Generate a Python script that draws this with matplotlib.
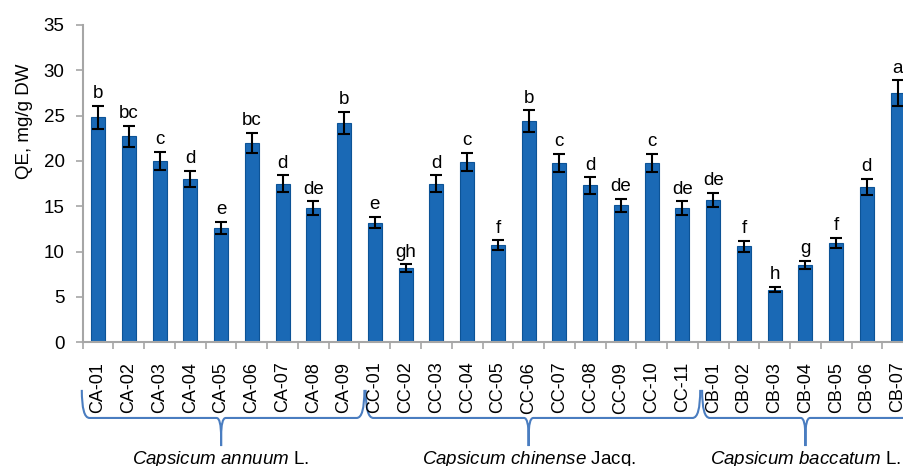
import matplotlib
matplotlib.use("Agg")
import matplotlib.pyplot as plt
import matplotlib.transforms as mtransforms
from matplotlib.path import Path
from matplotlib.patches import PathPatch
import numpy as np

plt.rcParams["font.family"] = ["Liberation Sans", "DejaVu Sans"]
plt.rcParams["mathtext.fontset"] = "custom"
plt.rcParams["mathtext.it"] = "Liberation Sans:italic"
plt.rcParams["mathtext.rm"] = "Liberation Sans"

# accessions per species
ca_names = ["CA-01", "CA-02", "CA-03", "CA-04", "CA-05", "CA-06", "CA-07", "CA-08", "CA-09"]
cc_names = ["CC-01", "CC-02", "CC-03", "CC-04", "CC-05", "CC-06", "CC-07", "CC-08",
            "CC-09", "CC-10", "CC-11"]
cb_names = ["CB-01", "CB-02", "CB-03", "CB-04", "CB-05", "CB-06", "CB-07"]

# quercetin equivalents, mg/g DW
ca_qe = [24.8, 22.7, 20.0, 18.0, 12.6, 22.0, 17.5, 14.8, 24.2]
cc_qe = [13.2, 8.2, 17.5, 19.9, 10.7, 24.4, 19.8, 17.3, 15.1, 19.8, 14.8]
cb_qe = [15.7, 10.6, 5.8, 8.5, 11.0, 17.1, 27.5]

ca_err = [1.25, 1.2, 1.0, 0.9, 0.65, 1.1, 0.9, 0.75, 1.25]
cc_err = [0.65, 0.4, 0.9, 1.0, 0.55, 1.2, 1.0, 0.9, 0.75, 1.0, 0.75]
cb_err = [0.8, 0.6, 0.3, 0.45, 0.55, 0.9, 1.4]

# significance groups
ca_sig = ["b", "bc", "c", "d", "e", "bc", "d", "de", "b"]
cc_sig = ["e", "gh", "d", "c", "f", "b", "c", "d", "de", "c", "de"]
cb_sig = ["de", "f", "h", "g", "f", "d", "a"]

species = [r"$\mathit{Capsicum\ annuum}$ L.",
           r"$\mathit{Capsicum\ chinense}$ Jacq.",
           r"$\mathit{Capsicum\ baccatum}$ L."]
group_sizes = [len(ca_names), len(cc_names), len(cb_names)]

names = ca_names + cc_names + cb_names
qe = np.array(ca_qe + cc_qe + cb_qe)
err = np.array(ca_err + cc_err + cb_err)
sig = ca_sig + cc_sig + cb_sig
x = np.arange(len(names))

fig = plt.figure(figsize=(9.04, 4.66), dpi=100)
ax = fig.add_axes([0.0915, 0.2655, 0.9185, 0.681])

ax.bar(x, qe, width=0.46, color="#1a69b5", edgecolor="#0c5396", linewidth=0.8, zorder=2)
ax.errorbar(x, qe, yerr=err, fmt="none", ecolor="black", elinewidth=1.5,
            capsize=4.3, capthick=1.5, zorder=3)

for xi, v, e, s in zip(x, qe, err, sig):
    ax.annotate(s, (xi, v + e), xytext=(0, 5.5), textcoords="offset points",
                ha="center", va="baseline", fontsize=13.5)

ax.set_xlim(-0.5, len(names) - 0.5)
ax.set_ylim(0, 35)
ax.set_yticks(range(0, 36, 5))
ax.set_ylabel("QE, mg/g DW", fontsize=13.5)
ax.yaxis.set_label_coords(-0.060, 0.696)

ax.set_xticks(x)
ax.set_xticklabels(names, rotation=90, fontsize=13)
shift = mtransforms.ScaledTranslation(2 / 72, 0, fig.dpi_scale_trans)
for lbl in ax.get_xticklabels():
    lbl.set_transform(lbl.get_transform() + shift)
ax.set_xticks(np.arange(-0.5, len(names), 1), minor=True)
ax.tick_params(axis="x", which="major", length=0, pad=14)
ax.tick_params(axis="x", which="minor", length=5, width=1.2, color="#a6a6a6", direction="out")
ax.tick_params(axis="y", length=5, width=1.2, color="#a6a6a6", labelsize=13.5, pad=8)

for side in ["top", "right"]:
    ax.spines[side].set_visible(False)
for side in ["left", "bottom"]:
    ax.spines[side].set_color("#a6a6a6")
    ax.spines[side].set_linewidth(1.5)

# curly braces grouping the accessions by species
trans = mtransforms.blended_transform_factory(ax.transData, ax.transAxes)
y_end, y_mid, y_tip = -0.150, -0.2385, -0.327
spans = [(-0.53, 8.66), (8.70, 19.58), (19.64, 27.5)]
first = -0.5
for label, n, (start, stop) in zip(species, group_sizes, spans):
    xc = first + n / 2.0
    first += n
    verts = [(start, y_end), (start, y_mid), (start + 0.25, y_mid),
             (xc - 0.15, y_mid), (xc, y_mid), (xc, y_mid - 0.06),
             (xc, y_tip), (xc, y_mid - 0.06), (xc, y_mid), (xc + 0.15, y_mid),
             (stop - 0.25, y_mid), (stop, y_mid), (stop, y_end)]
    codes = [Path.MOVETO, Path.CURVE3, Path.CURVE3,
             Path.LINETO, Path.CURVE3, Path.CURVE3,
             Path.LINETO, Path.LINETO, Path.CURVE3, Path.CURVE3,
             Path.LINETO, Path.CURVE3, Path.CURVE3]
    brace = PathPatch(Path(verts, codes), transform=trans, fill=False,
                      edgecolor="#4a7dc0", linewidth=1.5, clip_on=False)
    ax.add_patch(brace)
    ax.text(xc, -0.385, label, transform=trans, ha="center", va="baseline", fontsize=13.5)

fig.savefig("out.png", dpi=100)
